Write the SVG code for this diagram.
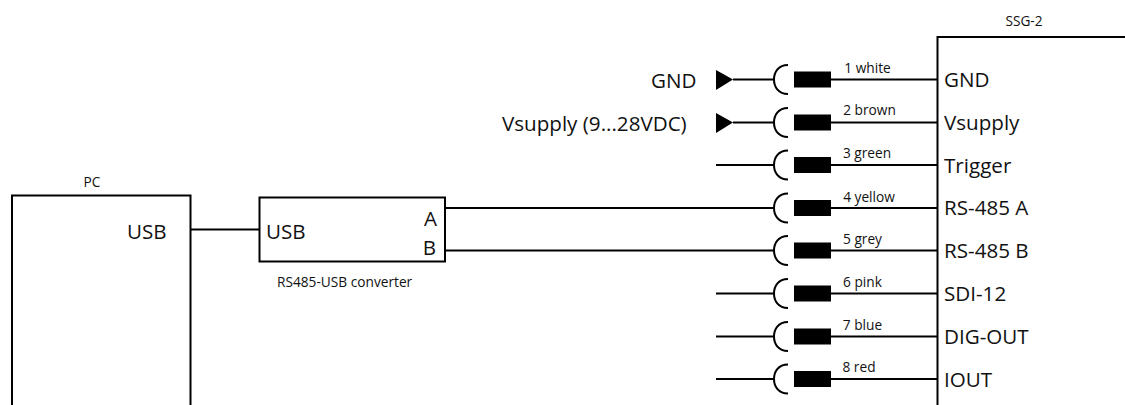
<svg xmlns="http://www.w3.org/2000/svg" width="1125" height="405" viewBox="0 0 1125 405">
<style>
text{font-family:"Open Sans","Noto Sans",sans-serif;fill:#111}
.l{font-size:20.600px}
.s{font-size:13.700px}
.m{text-anchor:middle}
.e{text-anchor:end}
.box{fill:none;stroke:#000;stroke-width:2}
.w{fill:none;stroke:#000;stroke-width:2}
</style>
<defs>
<g id="conn">
<path class="w" d="M788 -14.500C778 -14.500 774 -7 774 0C774 7 778 14.500 788 14.500"/>
<rect x="794" y="-8" width="37" height="16" fill="#000"/>
<path class="w" d="M831 0H937"/>
</g>
</defs>
<g id="connectors">
<path class="w" d="M190 229.500H259"/>
<path class="w" d="M445 208H774"/>
<path class="w" d="M445 250.500H774"/>
<path class="w" d="M733 79.500H774"/>
<path class="w" d="M733 122.500H774"/>
<path class="w" d="M716 165H774"/>
<path class="w" d="M716 293.500H774"/>
<path class="w" d="M716 336.500H774"/>
<path class="w" d="M716 379H774"/>
<use href="#conn" y="79.500"/>
<use href="#conn" y="122.500"/>
<use href="#conn" y="165"/>
<use href="#conn" y="208"/>
<use href="#conn" y="250.500"/>
<use href="#conn" y="293.500"/>
<use href="#conn" y="336.500"/>
<use href="#conn" y="379"/>
<path d="M716 70L733 79.500L716 90Z" fill="#000"/>
<path d="M716 113L733 122.500L716 133Z" fill="#000"/>
</g>
<g id="pc">
<path class="box" d="M12 405V195.500H190.500V405"/>
<text class="s m" x="92" y="187">PC</text>
<text class="l" x="127" y="239">USB</text>
</g>
<g id="converter">
<rect class="box" x="259.500" y="197.500" width="185.500" height="64"/>
<text class="l" x="266" y="239">USB</text>
<text class="l e" x="437" y="226">A</text>
<text class="l e" x="436" y="255">B</text>
<text class="s" x="277" y="287">RS485-USB converter</text>
</g>
<g id="ssg2">
<path class="box" d="M1125 37H937.500V405"/>
<text class="s m" x="1024" y="26">SSG-2</text>
<text class="l" x="944" y="87">GND</text>
<text class="l" x="944" y="130">Vsupply</text>
<text class="l" x="944" y="173">Trigger</text>
<text class="l" x="944" y="215">RS-485 A</text>
<text class="l" x="944" y="258">RS-485 B</text>
<text class="l" x="944" y="301">SDI-12</text>
<text class="l" x="944" y="344">DIG-OUT</text>
<text class="l" x="944" y="387">IOUT</text>
</g>
<g id="wire-labels">
<text class="s m" x="867.500" y="73">1 white</text>
<text class="s m" x="869.500" y="115">2 brown</text>
<text class="s m" x="867" y="158">3 green</text>
<text class="s m" x="869" y="201.500">4 yellow</text>
<text class="s m" x="862.500" y="244">5 grey</text>
<text class="s m" x="862.500" y="287">6 pink</text>
<text class="s m" x="862.500" y="330">7 blue</text>
<text class="s m" x="859" y="372">8 red</text>
</g>
<g id="supply-labels">
<text class="l" x="651" y="88">GND</text>
<text class="l" x="502" y="130.500">Vsupply (9...28VDC)</text>
</g>
</svg>
